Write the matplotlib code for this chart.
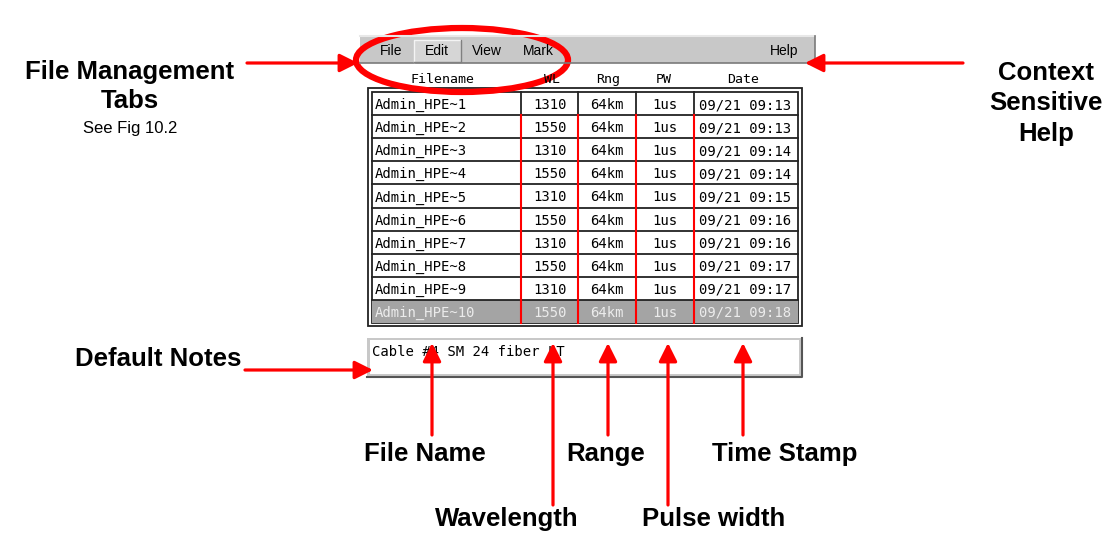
import matplotlib
matplotlib.use("Agg")
import matplotlib.pyplot as plt
from matplotlib.patches import Rectangle, Ellipse

# table contents
filenames = ["Admin_HPE~%d" % i for i in range(1, 11)]
wavelengths = ["1310", "1550", "1310", "1550", "1310", "1550", "1310", "1550", "1310", "1550"]
ranges = ["64km"] * 10
pulse_widths = ["1us"] * 10
dates = ["09/21 09:13", "09/21 09:13", "09/21 09:14", "09/21 09:14", "09/21 09:15",
         "09/21 09:16", "09/21 09:16", "09/21 09:17", "09/21 09:17", "09/21 09:18"]
headers = ["Filename", "WL", "Rng", "PW", "Date"]
menu_items = ["File", "Edit", "View", "Mark"]
note_text = "Cable #4 SM 24 fiber LT"

# callouts: (label, arrow x, label y, arrow bottom, label x)
callouts = [("File Name", 432, 454, 435, 425),
            ("Wavelength", 553, 519, 505, 507),
            ("Range", 608, 454, 435, 606),
            ("Pulse width", 668, 519, 505, 714),
            ("Time Stamp", 743, 454, 435, 785)]

MONO = "DejaVu Sans Mono"
SANS = "Liberation Sans"
RED = "#ff0000"

fig = plt.figure(figsize=(11.09, 5.36), dpi=100)
ax = fig.add_axes([0, 0, 1, 1])
ax.set_xlim(0, 1109)
ax.set_ylim(536, 0)
ax.axis("off")

# menu bar
ax.add_patch(Rectangle((360, 36), 455, 27, fc="#c8c8c8", ec="none"))
ax.plot([360, 815], [36, 36], color="#e8e8e8", lw=1.5)
ax.plot([360, 815], [63, 63], color="#7a7a7a", lw=1.2)
ax.plot([815, 815], [36, 63], color="#7a7a7a", lw=1.2)
ax.add_patch(Rectangle((414, 40), 47, 22, fc="#d6d6d6", ec="none"))
ax.plot([414, 414, 461], [62, 40, 40], color="#f4f4f4", lw=1.0)
ax.plot([414, 461, 461], [62, 62, 40], color="#808080", lw=1.0)
for name, x in zip(menu_items, [391, 437, 487, 538]):
    ax.text(x, 51, name, ha="center", va="center", fontsize=10, family=SANS)
ax.text(784, 51, "Help", ha="center", va="center", fontsize=10, family=SANS)

# column headers
col_x = [443, 552, 608, 664, 743]
for h, x in zip(headers, col_x):
    ax.text(x, 83, h, ha="center", va="baseline", fontsize=9.5, family=MONO)

# table frame
top, bottom, left, right = 92, 323, 372, 798
row_h = (bottom - top) / len(filenames)
ax.add_patch(Rectangle((368, 88), 434, 238, fc="white", ec="#222222", lw=1.3))
ax.add_patch(Rectangle((left, top), right - left, bottom - top, fc="white", ec="#222222", lw=1.3))
seps = [521, 578, 636, 694]

for i in range(len(filenames)):
    y0 = top + i * row_h
    yb = y0 + row_h / 2 + 5.5
    selected = i == len(filenames) - 1
    if selected:
        ax.add_patch(Rectangle((left, y0), right - left, row_h, fc="#a4a4a4", ec="none"))
    tc = "#ececec" if selected else "black"
    kw = dict(va="baseline", fontsize=10, family=MONO, color=tc)
    ax.text(375, yb, filenames[i], ha="left", **kw)
    ax.text(550, yb, wavelengths[i], ha="center", **kw)
    ax.text(607, yb, ranges[i], ha="center", **kw)
    ax.text(665, yb, pulse_widths[i], ha="center", **kw)
    ax.text(745, yb, dates[i], ha="center", **kw)
    if i > 0:
        ax.plot([left, right], [y0, y0], color="#222222", lw=1.3)

for x in seps:
    ax.plot([x, x], [top, top + row_h], color="#222222", lw=1.3)
    ax.plot([x, x], [top + row_h, bottom], color=RED, lw=1.5)

# notes box
ax.add_patch(Rectangle((367, 338), 435, 39, fc="#c8c8c8", ec="none"))
ax.add_patch(Rectangle((370, 340), 429, 34, fc="white", ec="none"))
ax.plot([367, 802, 802], [377, 377, 338], color="#555555", lw=1.5)
ax.text(372, 356, note_text, ha="left", va="baseline", fontsize=10, family=MONO)

# red highlight ellipse around the tabs
ax.add_patch(Ellipse((462, 60), 212, 64, fill=False, ec=RED, lw=4.5))

arrow = dict(arrowstyle="-|>,head_length=1.1,head_width=0.55", color=RED, lw=2.3,
             shrinkA=0, shrinkB=0)
ax.annotate("", xy=(358, 63), xytext=(247, 63), arrowprops=arrow)
ax.annotate("", xy=(805, 63), xytext=(963, 63), arrowprops=arrow)
ax.annotate("", xy=(373, 370), xytext=(245, 370), arrowprops=arrow)
for label, x, ly, yb, lx in callouts:
    ax.annotate("", xy=(x, 343), xytext=(x, yb), arrowprops=arrow)
    ax.text(lx, ly, label, ha="center", va="center", fontsize=18.5, weight="bold", family=SANS)

# side labels
ax.text(130, 72, "File Management", ha="center", va="center", fontsize=18.5, weight="bold", family=SANS)
ax.text(130, 101, "Tabs", ha="center", va="center", fontsize=18.5, weight="bold", family=SANS)
ax.text(130, 128, "See Fig 10.2", ha="center", va="center", fontsize=12, family=SANS)
ax.text(158, 359, "Default Notes", ha="center", va="center", fontsize=18.5, weight="bold", family=SANS)
for t, y in zip(["Context", "Sensitive", "Help"], [73, 103, 134]):
    ax.text(1046, y, t, ha="center", va="center", fontsize=18.5, weight="bold", family=SANS)

fig.savefig("out.png", dpi=100)
